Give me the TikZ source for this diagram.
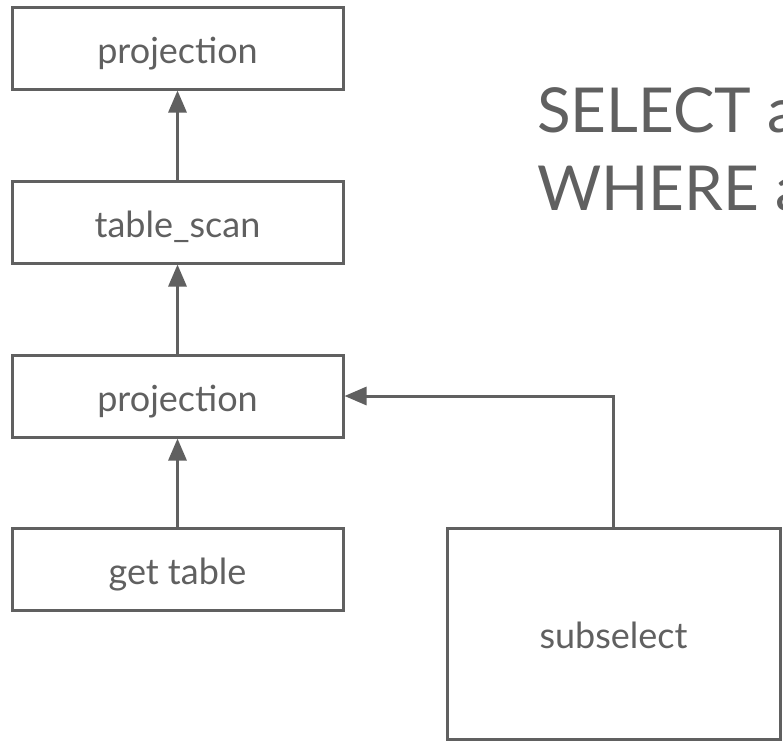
\documentclass[tikz,border=0pt]{standalone}
\usepackage{fontspec}
\setmainfont{Lato}
\usetikzlibrary{arrows.meta}
\definecolor{ink}{RGB}{96,96,96}
\tikzset{
  opbox/.style={draw=ink, line width=3pt, rectangle, minimum width=331pt, minimum height=82pt, inner sep=0pt, text height=30pt, text depth=0pt, text=ink, font=\fontsize{36}{42}\selectfont},
  flow/.style={draw=ink, line width=3pt, -{Triangle[length=22pt,width=18pt]}, color=ink},
  sqltext/.style={text=ink, anchor=base west, inner sep=0pt, font=\fontsize{62}{74}\selectfont}
}
\begin{document}
\begin{tikzpicture}[x=1pt,y=-1pt]
\useasboundingbox (0,0) rectangle (783,742);
\clip (0,0) rectangle (783,742);
\node[opbox] (p1) at (177.5,48) {projection};
\node[opbox] (ts) at (177.5,222) {table\_scan};
\node[opbox] (p2) at (177.5,396) {projection};
\node[opbox] (gt) at (177.5,569) {get table};
\node[opbox, minimum width=333pt, minimum height=211pt] (ss) at (613.5,633.5) {subselect};
\node[sqltext] (l1) at (537,132) {SELECT a};
\node[sqltext] (l2) at (537,210) {WHERE a};
\draw[flow] (ts.north) -- (p1.south);
\draw[flow] (p2.north) -- (ts.south);
\draw[flow] (gt.north) -- (p2.south);
\draw[flow] (ss.north) |- (p2.east);
\end{tikzpicture}
\end{document}
